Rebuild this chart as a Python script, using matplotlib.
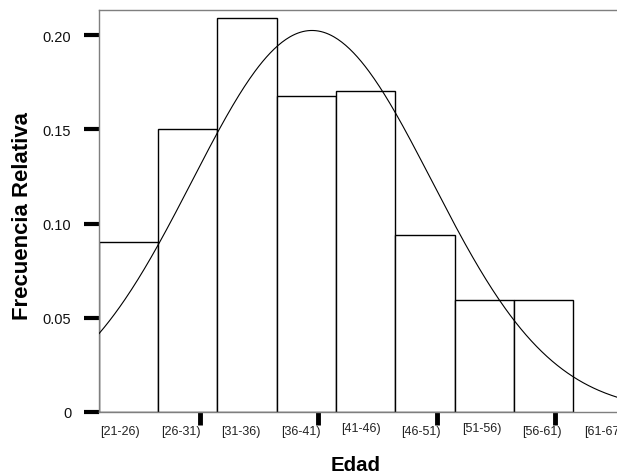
import numpy as np
import matplotlib
matplotlib.use("Agg")
import matplotlib.pyplot as plt

# Data
bin_edges_left = [21, 26, 31, 36, 41, 46, 51, 56]
bin_width = 5
rel_freq = [0.090, 0.150, 0.209, 0.1675, 0.1705, 0.094, 0.0593, 0.0593]
tick_labels = ["[21-26)", "[26-31)", "[31-36)", "[36-41)", "[41-46)",
               "[46-51)", "[51-56)", "[56-61)", "[61-67"]
fit_mean = 38.97
fit_sd = 10.1
fit_peak = 0.2024
yticks = [0, 0.05, 0.10, 0.15, 0.20]
ytick_labels = ["0", "0.05", "0.10", "0.15", "0.20"]

plt.rcParams['font.family'] = ['Liberation Sans', 'DejaVu Sans']

fig = plt.figure(figsize=(6.17, 4.77), dpi=100)
ax = fig.add_axes([99/617, 64/477, 518/617, 402/477])

ax.bar(bin_edges_left, rel_freq, width=bin_width, align='edge',
       facecolor='white', edgecolor='black', linewidth=1.0, zorder=2)

xmin, xmax = 21, 21 + 518 / 11.85
xs = np.linspace(xmin, xmax, 400)
ys = fit_peak * np.exp(-0.5 * ((xs - fit_mean) / fit_sd) ** 2)
ax.plot(xs, ys, color='black', linewidth=0.8, zorder=3)

ax.set_xlim(xmin, xmax)
ax.set_ylim(0, 402 / 1885)

for s in ['left', 'bottom', 'top']:
    ax.spines[s].set_color('#7f7f7f')
    ax.spines[s].set_linewidth(1.0)
ax.spines['right'].set_visible(False)

ax.set_yticks(yticks)
ax.set_yticklabels(ytick_labels, fontsize=10.5, color='#111111')
ax.tick_params(axis='y', direction='out', length=11, width=3, color='black', pad=9)

ax.set_xticks([29.5, 39.5, 49.5, 59.5])
ax.set_xticklabels([])
ax.tick_params(axis='x', direction='out', length=9, width=3.5, color='black')

label_pos = 22.8 + 5.08 * np.arange(len(tick_labels))
label_dy = [0, 0, 0, 0, 2.5, 0, 2.5, 0, 0]
for x, lab, dy in zip(label_pos, tick_labels, label_dy):
    fig.text((99 + (x - 21) * 11.85) / 617, 1 - (432 - dy) / 477, lab,
             ha='center', va='center', fontsize=9, color='#222222')

fig.text(356 / 617, 1 - 466 / 477, "Edad", ha='center', va='center',
         fontsize=14.7, fontweight='bold')
fig.text(22.5 / 617, 1 - 216 / 477, "Frecuencia Relativa", ha='center', va='center',
         rotation=90, fontsize=15.9, fontweight='bold')

fig.savefig("out.png", dpi=100)
